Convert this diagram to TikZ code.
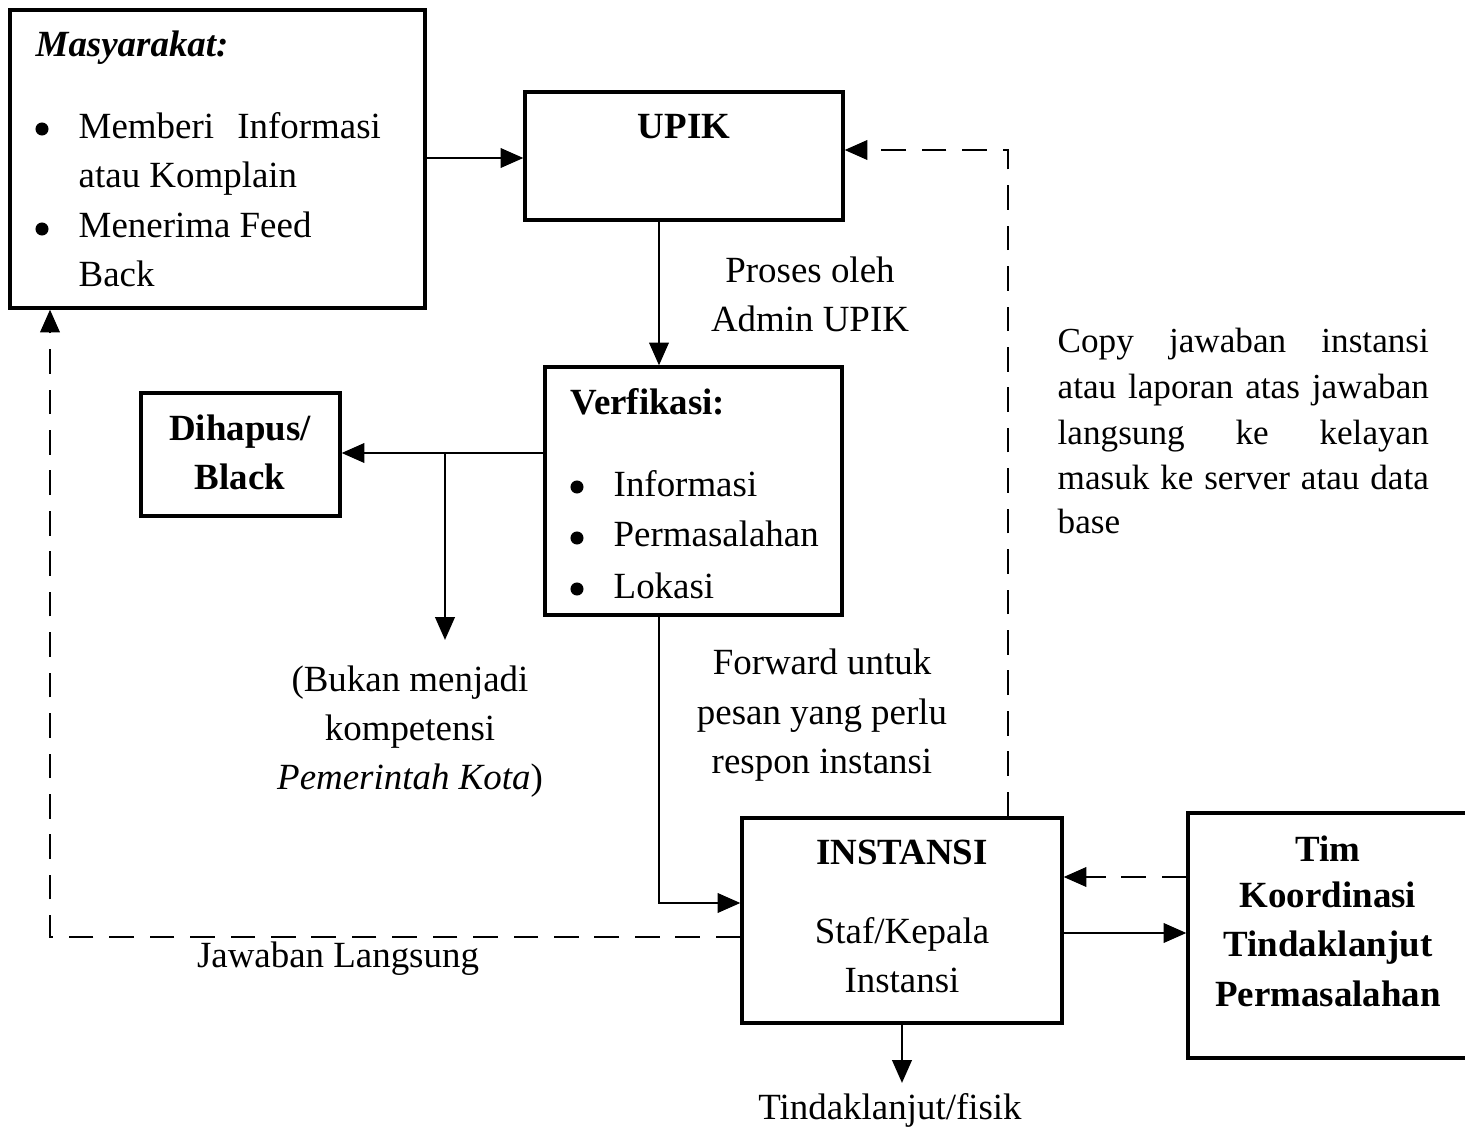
\documentclass[tikz,border=0pt]{standalone}
\usepackage{fontspec}
\setmainfont{Liberation Serif}
\usetikzlibrary{arrows.meta}
\begin{document}
\begin{tikzpicture}[x=0.01cm,y=-0.01cm,
  box/.style={draw, line width=0.9pt, rectangle, inner sep=0pt},
  arr/.style={line width=0.8pt, -{Triangle[length=6.5pt,width=5.5pt]}},
  darr/.style={line width=0.8pt, dash pattern=on 7pt off 4.5pt, -{Triangle[length=6.5pt,width=5.5pt]}},
  txt/.style={font=\fontsize{10.5}{14.2}\selectfont, inner sep=0pt, anchor=base},
  txtw/.style={txt, anchor=base west},
  btxt/.style={txt, font=\fontsize{10.5}{14.2}\selectfont\bfseries},
  bul/.style={circle, fill, inner sep=0pt, minimum size=0.13cm},
  smalltxt/.style={font=\fontsize{10}{12.8}\selectfont, inner sep=0pt, anchor=base west}
]
\useasboundingbox (0,0) rectangle (1465,1127);

% boxes
\node[box, minimum width=415*0.01cm, minimum height=298*0.01cm] (masy) at (217.5,159) {};
\node[box, minimum width=318*0.01cm, minimum height=128*0.01cm] (upik) at (684,156) {};
\node[box, minimum width=297*0.01cm, minimum height=248*0.01cm] (verif) at (693.5,491) {};
\node[box, minimum width=199*0.01cm, minimum height=123*0.01cm] (dihapus) at (240.5,454.5) {};
\node[box, minimum width=320*0.01cm, minimum height=205*0.01cm] (inst) at (902,920.5) {};
\node[box, minimum width=292*0.01cm, minimum height=245*0.01cm] (tim) at (1334,935.5) {};

% Masyarakat text
\node[txtw, font=\fontsize{10.5}{14.2}\selectfont\bfseries\itshape] (tM) at (35,57) {Masyarakat:};
\node[bul] (b1) at (42,129) {};
\node[txtw] (t1) at (78,138) {\makebox[3.02cm][s]{Memberi Informasi}};
\node[txtw] (t2) at (78,188) {atau Komplain};
\node[bul] (b2) at (42,229) {};
\node[txtw] (t3) at (78,238) {Menerima Feed};
\node[txtw] (t4) at (78,287) {Back};

% UPIK
\node[btxt] (tU) at (684,138) {UPIK};

% Verifikasi
\node[txtw, font=\fontsize{10.5}{14.2}\selectfont\bfseries] (tV) at (570,414) {Verfikasi:};
\node[bul] (vb1) at (577,487) {};
\node[txtw] (v1) at (613,496) {Informasi};
\node[bul] (vb2) at (577,538) {};
\node[txtw] (v2) at (613,547) {Permasalahan};
\node[bul] (vb3) at (577,589) {};
\node[txtw] (v3) at (613,598) {Lokasi};

% Dihapus
\node[btxt] (d1) at (240,440) {Dihapus/};
\node[btxt] (d2) at (240,489) {Black};

% INSTANSI
\node[btxt] (i1) at (902,864) {INSTANSI};
\node[txt] (i2) at (902,943) {Staf/Kepala};
\node[txt] (i3) at (902,992) {Instansi};

% Tim
\node[btxt] (m1) at (1328,861) {Tim};
\node[btxt] (m2) at (1328,907) {Koordinasi};
\node[btxt] (m3) at (1328,956) {Tindaklanjut};
\node[btxt] (m4) at (1328,1006) {Permasalahan};

% labels
\node[txt] (p1) at (810,282) {Proses oleh};
\node[txt] (p2) at (810,331) {Admin UPIK};
\node[txt] (k1) at (410,692) {(Bukan menjadi};
\node[txt] (k2) at (410,741) {kompetensi};
\node[txt] (k3) at (410,789) {\textit{Pemerintah Kota})};
\node[txt] (f1) at (822,675) {Forward untuk};
\node[txt] (f2) at (822,724) {pesan yang perlu};
\node[txt] (f3) at (822,773) {respon instansi};
\node[txt] (jl) at (338,967) {Jawaban Langsung};
\node[txt] (tf) at (890,1119) {Tindaklanjut/fisik};

\node[smalltxt] (c1) at (1057,353) {\makebox[3.71cm][s]{Copy jawaban instansi}};
\node[smalltxt] (c2) at (1057,399) {\makebox[3.71cm][s]{atau laporan atas jawaban}};
\node[smalltxt] (c3) at (1057,444) {\makebox[3.71cm][s]{langsung ke kelayan}};
\node[smalltxt] (c4) at (1057,489) {\makebox[3.71cm][s]{masuk ke server atau data}};
\node[smalltxt] (c5) at (1057,533) {base};

% helper coordinates
\coordinate (y158) at (0,158);
\coordinate (x659) at (659,0);
\coordinate (y453) at (0,453);
\coordinate (br) at (445,453);
\coordinate (brend) at (445,640);
\coordinate (y903) at (0,903);
\coordinate (x1008) at (1008,0);
\coordinate (y150) at (0,150);
\coordinate (y937) at (0,937);
\coordinate (x50) at (50,0);
\coordinate (y877) at (0,877);
\coordinate (y933) at (0,933);
\coordinate (tfend) at (902,1083);

% connectors
\draw[arr] (masy.east |- y158) -- (upik.west |- y158);
\draw[arr] (upik.south -| x659) -- (verif.north -| x659);
\draw[arr] (verif.west |- y453) -- (dihapus.east |- y453);
\draw[arr] (br) -- (brend);
\draw[arr] (verif.south -| x659) |- (inst.west |- y903);
\draw[darr] (inst.north -| x1008) |- (upik.east |- y150);
\draw[darr] (inst.west |- y937) -| (masy.south -| x50);
\draw[darr] (tim.west |- y877) -- (inst.east |- y877);
\draw[arr] (inst.east |- y933) -- (tim.west |- y933);
\draw[arr] (inst.south) -- (tfend);
\end{tikzpicture}
\end{document}
